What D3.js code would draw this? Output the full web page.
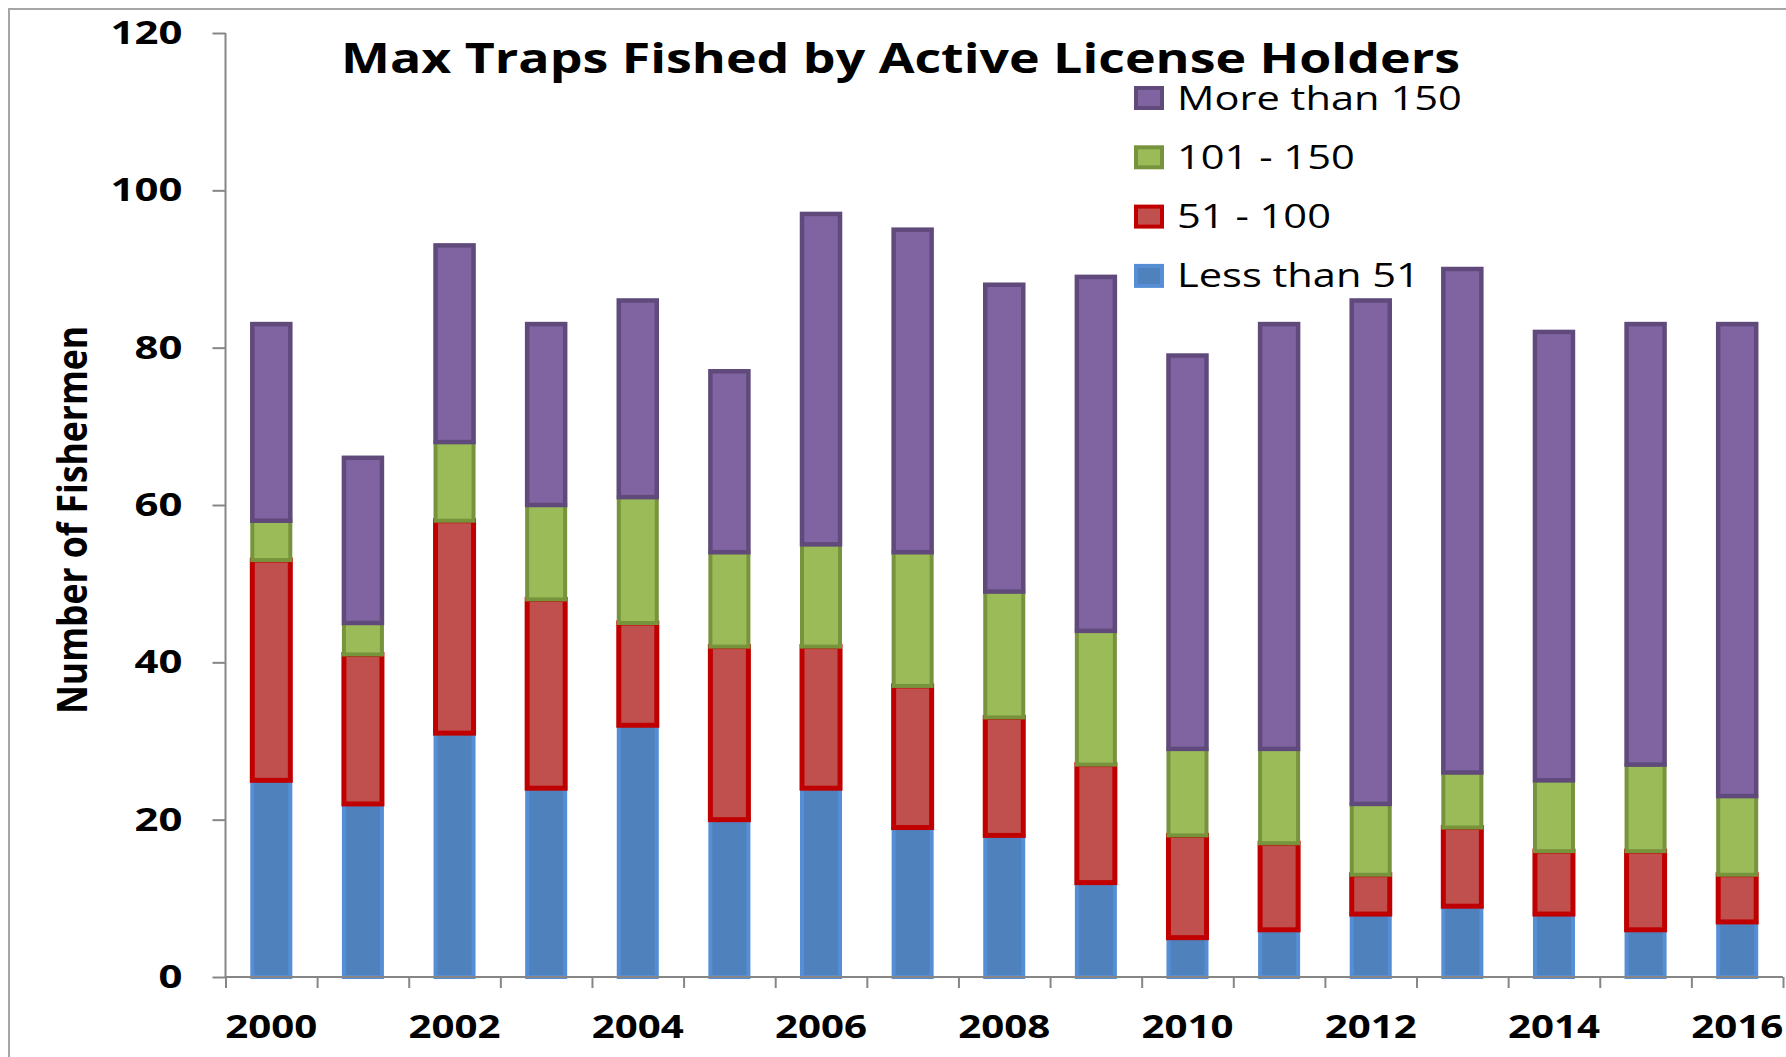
<!DOCTYPE html>
<html>
<head>
<meta charset="utf-8">
<script src="https://cdn.jsdelivr.net/npm/d3@7"></script>
<style>
    body { margin: 0; background: #fff; }
    svg text { font-family: "Open Sans", "Noto Sans", sans-serif; fill: #000; }
</style>
</head>
<body>
<svg id="chart" width="1786" height="1057"></svg>
<script>
// years on the x axis, only every other one gets a label
const years = d3.range(2000, 2017).map(String);
const yearLabels = ["2000", "2002", "2004", "2006", "2008", "2010", "2012", "2014", "2016"];
const yTicks = [0, 20, 40, 60, 80, 100, 120];

// number of fishermen per trap class
const lessThan51 = [25, 22, 31, 24, 32, 20, 24, 19, 18, 12, 5, 6, 8, 9, 8, 6, 7];
const from51to100 = [28, 19, 27, 24, 13, 22, 18, 18, 15, 15, 13, 11, 5, 10, 8, 10, 6];
const from101to150 = [5, 4, 10, 12, 16, 12, 13, 17, 16, 17, 11, 12, 9, 7, 9, 11, 10];
const moreThan150 = [25, 21, 25, 23, 25, 23, 42, 41, 39, 45, 50, 54, 64, 64, 57, 56, 60];

const seriesNames = ["Less than 51", "51 - 100", "101 - 150", "More than 150"];

const styles = {
    "Less than 51": {fill: "#4f81bd", stroke: "#558ed5", sw: 4},
    "51 - 100": {fill: "#c0504d", stroke: "#c00000", sw: 5},
    "101 - 150": {fill: "#9bbb59", stroke: "#77933c", sw: 4},
    "More than 150": {fill: "#8064a2", stroke: "#604a7b", sw: 4.5}
};

let rows = years.map(function (yr, i) {
    return {
        year: yr,
        "Less than 51": lessThan51[i],
        "51 - 100": from51to100[i],
        "101 - 150": from101to150[i],
        "More than 150": moreThan150[i]
    };
});

let svg = d3.select("#chart");

// stretch text horizontally, the original font is a wide-ish Calibri
function stretch(sel, k) {
    sel.each(function () {
        let w = this.getComputedTextLength();
        d3.select(this).attr("textLength", w * k).attr("lengthAdjust", "spacingAndGlyphs");
    });
}

// outer frame
svg.append("rect")
    .attr("x", 9).attr("y", 9)
    .attr("width", 1800).attr("height", 1100)
    .attr("fill", "none")
    .attr("stroke", "#a6a6a6")
    .attr("stroke-width", 2);

let plotLeft = 225.5, plotRight = 1783, plotTop = 33, plotBottom = 977;
let pad = 0.585;

let x = d3.scaleBand()
    .domain(years)
    .range([plotLeft, plotRight])
    .paddingInner(pad)
    .paddingOuter(pad / 2);

let xEdge = d3.scaleLinear()
    .domain([0, years.length])
    .range([plotLeft, plotRight]);

let y = d3.scaleLinear()
    .domain([0, 120])
    .range([plotBottom, plotTop]);

let stacked = d3.stack().keys(seriesNames)(rows);

// bars
let layers = svg.append("g").selectAll("g")
    .data(stacked)
    .enter().append("g")
    .attr("fill", function (d) { return styles[d.key].fill; })
    .attr("stroke", function (d) { return styles[d.key].stroke; })
    .attr("stroke-width", function (d) { return styles[d.key].sw; });

layers.selectAll("rect")
    .data(function (d) { return d; })
    .enter().append("rect")
    .attr("x", function (d) { return x(d.data.year); })
    .attr("y", function (d) { return y(d[1]); })
    .attr("width", x.bandwidth())
    .attr("height", function (d) { return y(d[0]) - y(d[1]); });

// y axis
let yAxis = svg.append("g")
    .attr("transform", "translate(" + plotLeft + ",0)")
    .call(d3.axisLeft(y).tickValues(yTicks).tickSize(13).tickPadding(30));
yAxis.selectAll("path, line").attr("stroke", "#868686").attr("stroke-width", 2);
yAxis.select(".domain").attr("d", "M0," + plotTop + "V" + plotBottom);
yAxis.selectAll("text")
    .style("font-size", "33px")
    .style("font-weight", "bold")
    .call(stretch, 1.27);

// x axis: tick marks sit on the category edges
let xTicks = svg.append("g")
    .attr("transform", "translate(0," + plotBottom + ")")
    .call(d3.axisBottom(xEdge).ticks(years.length).tickSize(11).tickFormat(""));
xTicks.selectAll("path, line").attr("stroke", "#868686").attr("stroke-width", 2);
xTicks.select(".domain").attr("d", "M" + plotLeft + ",0H" + plotRight);

let xLabels = svg.append("g")
    .attr("transform", "translate(0," + plotBottom + ")")
    .call(d3.axisBottom(x).tickValues(yearLabels).tickSize(0).tickPadding(38));
xLabels.select(".domain").remove();
xLabels.selectAll("text")
    .style("font-size", "33px")
    .style("font-weight", "bold")
    .call(stretch, 1.22);

// axis title
svg.append("text")
    .attr("transform", "translate(87,520) rotate(-90)")
    .attr("text-anchor", "middle")
    .style("font-size", "42px")
    .style("font-weight", "bold")
    .text("Number of Fishermen")
    .attr("textLength", 388)
    .attr("lengthAdjust", "spacingAndGlyphs");

// title
svg.append("text")
    .attr("x", 341)
    .attr("y", 72.5)
    .style("font-size", "42px")
    .style("font-weight", "bold")
    .text("Max Traps Fished by Active License Holders")
    .attr("textLength", 1119)
    .attr("lengthAdjust", "spacingAndGlyphs");

// legend, drawn top to bottom in reverse stack order
let legendOrder = seriesNames.slice().reverse();
let legend = svg.append("g").selectAll("g")
    .data(legendOrder)
    .enter().append("g")
    .attr("transform", function (d, i) { return "translate(1134," + (98 + i * 59.3) + ")"; });

legend.append("rect")
    .attr("x", 2).attr("y", -10)
    .attr("width", 26).attr("height", 20)
    .attr("fill", function (d) { return styles[d].fill; })
    .attr("stroke", function (d) { return styles[d].stroke; })
    .attr("stroke-width", 4);

legend.append("text")
    .attr("x", 43)
    .attr("y", 11.5)
    .style("font-size", "32px")
    .text(function (d) { return d; })
    .call(stretch, 1.3);
</script>
</body>
</html>
